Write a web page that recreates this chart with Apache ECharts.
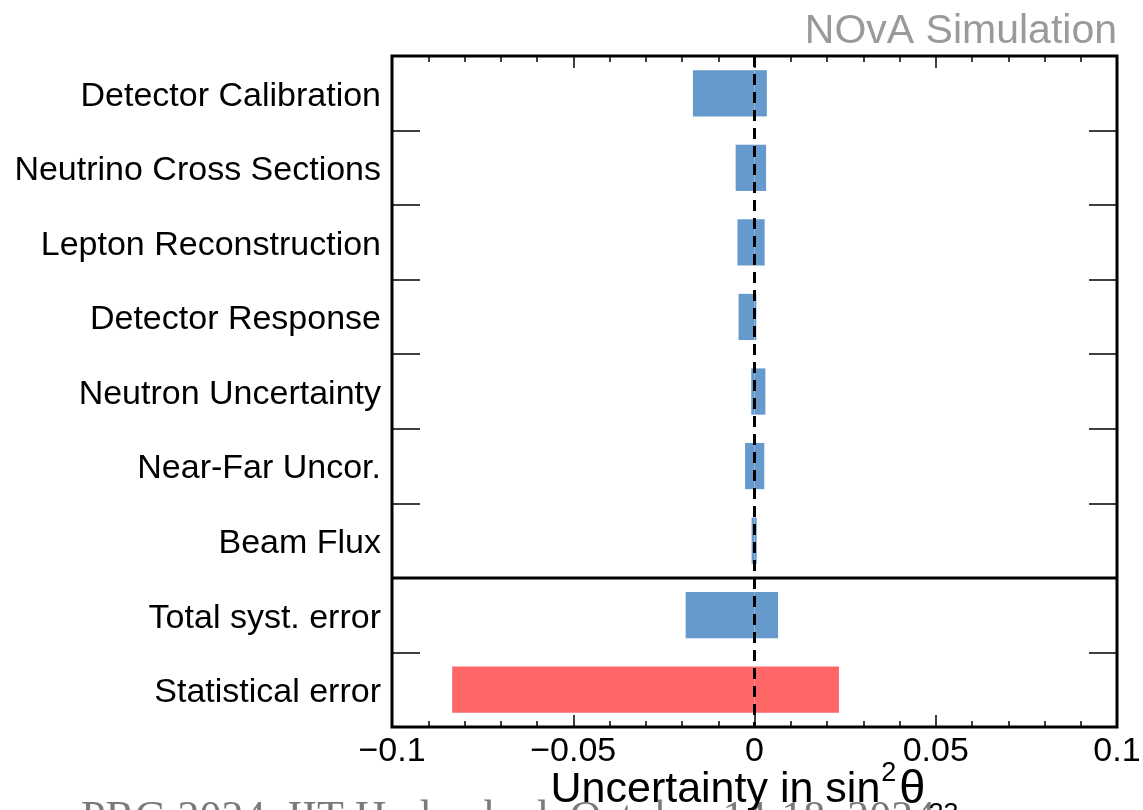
<!DOCTYPE html>
<html>
<head>
<meta charset="utf-8">
<script src="https://cdn.jsdelivr.net/npm/echarts@6/dist/echarts.min.js"></script>
<style>
html,body{margin:0;padding:0;background:#fff;}
#chart{width:1143px;height:810px;}
</style>
</head>
<body>
<div id="chart"></div>
<script>
// ---- data ----
const categories = [
  'Detector Calibration',
  'Neutrino Cross Sections',
  'Lepton Reconstruction',
  'Detector Response',
  'Neutron Uncertainty',
  'Near-Far Uncor.',
  'Beam Flux',
  'Total syst. error',
  'Statistical error'
];
const lowerShift = [-0.0170, -0.0052, -0.0047, -0.0044, -0.0009, -0.0026, -0.0008, -0.0190, -0.0834];
const upperShift = [ 0.0034,  0.0032,  0.0028,  0.0005,  0.0030,  0.0027,  0.0006,  0.0065,  0.0233];
const barColors = ['#6699CC','#6699CC','#6699CC','#6699CC','#6699CC','#6699CC','#6699CC','#6699CC','#FF6666'];
const xTicks = [-0.1, -0.05, 0, 0.05, 0.1];
const separatorAfter = 'Beam Flux';
const titleText = 'NOvA Simulation';
const footerText = 'PRG 2024, IIT Hyderabad, October 14-18, 2024';

const FONT = '"Liberation Sans", Arial, Helvetica, sans-serif';

function fmtTick(v) {
  const r = Math.round(v * 1000) / 1000;
  const match = xTicks.find(t => Math.abs(t - r) < 1e-9);
  if (match === undefined) return '';
  if (match === 0) return '0';
  return (match < 0 ? '\u2212' : '') + String(Math.abs(match));
}

const chart = echarts.init(document.getElementById('chart'), null, {renderer: 'canvas'});

const tickStyle = {show: true, inside: true, length: 12, lineStyle: {color: '#000', width: 1.5}};
const minorStyle = {show: true, splitNumber: 5, length: 6, lineStyle: {color: '#000', width: 1.5}};
const catTick = {show: true, inside: true, interval: 0, length: 28, lineStyle: {color: '#000', width: 1.5}};

const option = {
  backgroundColor: '#fff',
  animation: false,
  title: {
    text: titleText,
    right: 26,
    top: 11,
    padding: 0,
    textStyle: {fontFamily: FONT, fontSize: 41, fontWeight: 'normal', color: '#9a9a9a'}
  },
  grid: {
    left: 392, right: 26, top: 56, bottom: 83,
    outerBoundsMode: 'none',
    containLabel: false,
    show: true, borderColor: '#000', borderWidth: 3, backgroundColor: 'transparent'
  },
  xAxis: [{
    type: 'value',
    position: 'bottom',
    min: -0.1, max: 0.1, interval: 0.05,
    axisLine: {show: false, onZero: false},
    axisTick: tickStyle,
    minorTick: minorStyle,
    splitLine: {show: false},
    axisLabel: {
      fontFamily: FONT, fontSize: 34, color: '#000', margin: 8,
      formatter: fmtTick
    },
    name: '{a|Uncertainty in sin}{sup|2}{th|\u03B8}{sub|23}',
    nameLocation: 'middle',
    nameGap: 33,
    nameMoveOverlap: false,
    nameTextStyle: {
      verticalAlign: 'top',
      rich: {
        a: {fontFamily: FONT, fontSize: 43, color: '#000', lineHeight: 48, verticalAlign: 'top', padding: [9, 0, 0, 0]},
        th: {fontFamily: FONT, fontSize: 47, color: '#000', lineHeight: 52, verticalAlign: 'top', padding: [7, 0, 0, 0]},
        sup: {fontFamily: FONT, fontSize: 27, color: '#000', lineHeight: 28, verticalAlign: 'top', padding: [0, 3, 0, 1]},
        sub: {fontFamily: FONT, fontSize: 27, color: '#000', lineHeight: 28, verticalAlign: 'top', padding: [41, 0, 0, 3]}
      }
    }
  }, {
    type: 'value',
    position: 'top',
    min: -0.1, max: 0.1, interval: 0.05,
    axisLine: {show: false, onZero: false},
    axisTick: tickStyle,
    minorTick: minorStyle,
    splitLine: {show: false},
    axisLabel: {show: false}
  }],
  yAxis: [{
    type: 'category',
    inverse: true,
    position: 'left',
    data: categories,
    axisLine: {show: false, onZero: false},
    axisTick: catTick,
    axisLabel: {
      margin: 11,
      formatter: v => '{l|' + v + '}',
      rich: {l: {fontFamily: FONT, fontSize: 34, color: '#000', lineHeight: 40, verticalAlign: 'top', padding: [6, 0, 0, 0]}}
    }
  }, {
    type: 'category',
    inverse: true,
    position: 'right',
    data: categories,
    axisLine: {show: false, onZero: false},
    axisTick: catTick,
    axisLabel: {show: false}
  }],
  series: [{
    type: 'bar',
    name: 'lower',
    xAxisIndex: 0, yAxisIndex: 0,
    barWidth: '62%',
    barGap: '-100%',
    data: lowerShift.map((v, i) => ({value: v, itemStyle: {color: barColors[i]}}))
  }, {
    type: 'bar',
    name: 'upper',
    xAxisIndex: 0, yAxisIndex: 0,
    barWidth: '62%',
    barGap: '-100%',
    data: upperShift.map((v, i) => ({value: v, itemStyle: {color: barColors[i]}})),
    markLine: {
      silent: true,
      symbol: 'none',
      label: {show: false},
      z: 10,
      data: [
        {xAxis: 0, lineStyle: {color: '#000', width: 3, type: [11, 7]}}
      ]
    }
  }]
};
chart.setOption(option);

// separator line between the systematic rows and the totals, located via the axes
const idx = categories.indexOf(separatorAfter);
const yA = chart.convertToPixel({yAxisIndex: 0}, categories[idx]);
const yB = chart.convertToPixel({yAxisIndex: 0}, categories[idx + 1]);
const ySep = (yA + yB) / 2;
const xL = chart.convertToPixel({xAxisIndex: 0}, -0.1);
const xR = chart.convertToPixel({xAxisIndex: 0}, 0.1);
chart.setOption({
  graphic: [{
    type: 'text',
    left: 81,
    top: 797,
    z: -10,
    style: {
      text: footerText,
      font: '44px "Liberation Serif", "Times New Roman", serif',
      fill: '#7a7a7a'
    }
  }, {
    type: 'line',
    z: 50,
    shape: {x1: xL, y1: ySep, x2: xR, y2: ySep},
    style: {stroke: '#000', lineWidth: 3}
  }]
});
</script>
</body>
</html>
